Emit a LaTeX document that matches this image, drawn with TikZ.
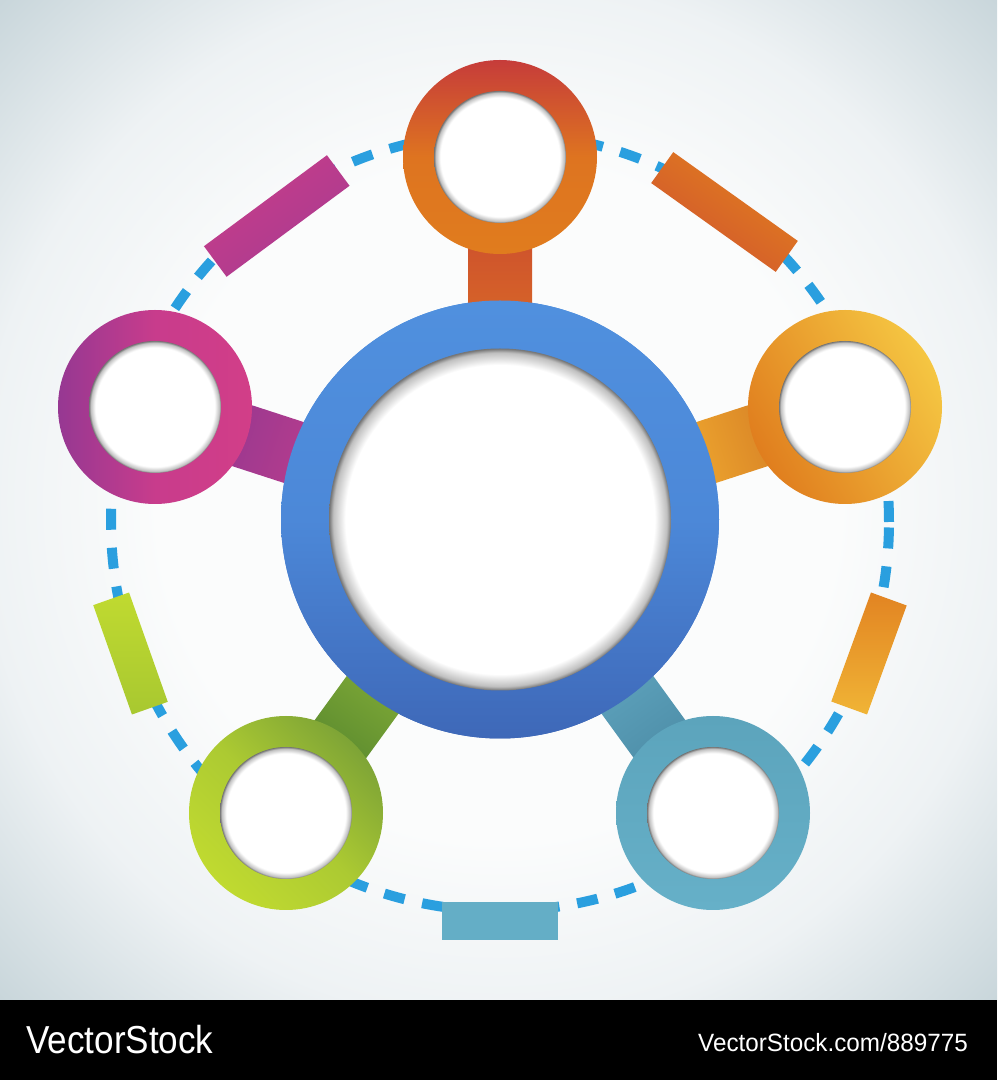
\documentclass[tikz,border=0pt]{standalone}
\usepackage{fontspec}
\newfontfamily\wmfont{Liberation Sans}
\definecolor{bgA}{HTML}{FBFCFC}
\definecolor{bgB}{HTML}{EEF2F4}
\definecolor{bgC}{HTML}{C6D4D9}
\definecolor{dashblue}{HTML}{2A9FDF}
\pgfdeclareradialshading{innershadow}{\pgfpoint{0bp}{0bp}}{color(0bp)=(white); color(22.6bp)=(white); color(24.4bp)=(black!25); color(25bp)=(black!55); color(50bp)=(black!55)}
\pgfdeclareradialshading{bgshade}{\pgfpoint{0bp}{0bp}}{color(0bp)=(bgA); color(17bp)=(bgA); color(26bp)=(bgB); color(36bp)=(bgC); color(50bp)=(bgC)}
\tikzset{
  ring/.style={circle, inner sep=0pt, minimum size=194pt},
  hole/.style={circle, inner sep=0pt, minimum size=132pt, shade, shading=innershadow},
  longbox/.style={rectangle, inner sep=0pt, minimum width=153pt, minimum height=38pt},
  shortbox/.style={rectangle, inner sep=0pt, minimum width=116pt, minimum height=38pt},
  wmtext/.style={text=white, inner sep=0pt}
}
\begin{document}
\begin{tikzpicture}[x=1pt,y=1pt]
\useasboundingbox (0,0) rectangle (997,1080);
% background
\shade[shading=bgshade] (0,80) rectangle (997,1080);
\fill[black] (0,0) rectangle (997,80);
\node[wmtext, anchor=base west, font=\wmfont\fontsize{39}{39}\selectfont] (wmA) at (26,27) {\scalebox{0.9}[1]{VectorStock}};
\node[wmtext, anchor=base east, font=\wmfont\fontsize{25}{25}\selectfont] (wmB) at (968,28) {\scalebox{0.97}[1]{VectorStock.com/889775}};
% dashed ring
\coordinate (D) at (500,558);
\draw[dashblue, line width=10pt, dash pattern=on 21pt off 18pt] (D) circle[radius=389];
% centre node
\node[ring, minimum size=438pt, top color={rgb,255:red,80;green,144;blue,222}, bottom color={rgb,255:red,62;green,104;blue,184}, middle color={rgb,255:red,76;green,136;blue,216}] (C) at (500,560.5) {};
% satellites (positions)
\coordinate (Tp) at (500,923);
\coordinate (Lp) at (155,673);
\coordinate (Rp) at (845,673);
\coordinate (BLp) at (286,267);
\coordinate (BRp) at (713,267);
% bars
\begin{scope}[shift={(C.center)}, rotate=90]
  \shade[top color={rgb,255:red,204;green,78;blue,46}, bottom color={rgb,255:red,220;green,112;blue,36}, shading angle=0] (150,-32) rectangle (300,32);
\end{scope}
\begin{scope}[shift={(C.center)}, rotate=18]
  \shade[top color={rgb,255:red,214;green,128;blue,38}, bottom color={rgb,255:red,248;green,182;blue,50}, shading angle=-72] (150,-32) rectangle (300,32);
\end{scope}
\begin{scope}[shift={(C.center)}, rotate=162]
  \shade[top color={rgb,255:red,150;green,56;blue,144}, bottom color={rgb,255:red,196;green,62;blue,140}, shading angle=72] (150,-32) rectangle (300,32);
\end{scope}
\begin{scope}[shift={(C.center)}, rotate=234]
  \shade[top color={rgb,255:red,88;green,136;blue,46}, bottom color={rgb,255:red,142;green,182;blue,58}, shading angle=144] (150,-32) rectangle (300,32);
\end{scope}
\begin{scope}[shift={(C.center)}, rotate=306]
  \shade[top color={rgb,255:red,76;green,140;blue,166}, bottom color={rgb,255:red,100;green,170;blue,196}, shading angle=216] (150,-32) rectangle (300,32);
\end{scope}
% centre ring redraw on top of bars
\node[ring, minimum size=438pt, top color={rgb,255:red,80;green,144;blue,222}, bottom color={rgb,255:red,62;green,104;blue,184}, middle color={rgb,255:red,76;green,136;blue,216}] (C2) at (C) {};
\node[hole, minimum size=342pt] (Ci) at (C) {};
% satellite rings
\node[ring, top color={rgb,255:red,198;green,60;blue,58}, bottom color={rgb,255:red,224;green,124;blue,30}, middle color={rgb,255:red,222;green,116;blue,32}] (T) at (Tp) {};
\node[ring, top color={rgb,255:red,245;green,198;blue,66}, bottom color={rgb,255:red,224;green,126;blue,30}, shading angle=-60] (R) at (Rp) {};
\node[ring, top color={rgb,255:red,150;green,56;blue,146}, bottom color={rgb,255:red,210;green,62;blue,136}, middle color={rgb,255:red,200;green,60;blue,140}, shading angle=90] (L) at (Lp) {};
\node[ring, top color={rgb,255:red,126;green,164;blue,54}, bottom color={rgb,255:red,192;green,218;blue,48}, middle color={rgb,255:red,172;green,202;blue,50}, shading angle=-45] (BL) at (BLp) {};
\node[ring, top color={rgb,255:red,92;green,164;blue,188}, bottom color={rgb,255:red,102;green,176;blue,200}] (BR) at (BRp) {};
\node[hole] (Ti) at (T) {};
\node[hole] (Ri) at (R) {};
\node[hole] (Li) at (L) {};
\node[hole] (BLi) at (BL) {};
\node[hole] (BRi) at (BR) {};
% rectangles on the dashed ring
\node[longbox, rotate=36.5, left color={rgb,255:red,200;green,62;blue,138}, middle color={rgb,255:red,198;green,61;blue,140}, right color={rgb,255:red,168;green,58;blue,144}, shading angle=36.5] (Pk) at (276.75,864) {};
\node[longbox, rotate=-35.5, left color={rgb,255:red,226;green,128;blue,30}, middle color={rgb,255:red,224;green,118;blue,32}, right color={rgb,255:red,208;green,84;blue,46}, shading angle=-35.5] (Or) at (724.5,868) {};
\node[shortbox, rotate=-70.5, top color={rgb,255:red,192;green,218;blue,48}, bottom color={rgb,255:red,168;green,200;blue,48}] (Gr) at (130.5,426.5) {};
\node[shortbox, rotate=70, top color={rgb,255:red,226;green,132;blue,34}, bottom color={rgb,255:red,240;green,180;blue,54}] (Yo) at (869,426.5) {};
\node[shortbox, fill={rgb,255:red,100;green,174;blue,198}] (Tl) at (500,158.5) {};
\end{tikzpicture}
\end{document}
